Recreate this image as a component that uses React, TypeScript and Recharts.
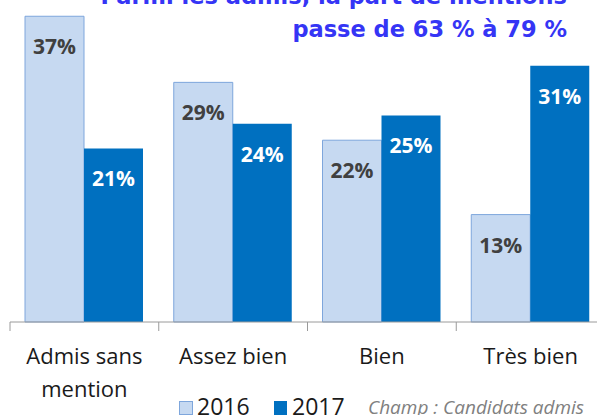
import { BarChart, Bar, XAxis, YAxis, LabelList } from 'recharts';

// Mentions au baccalauréat, parmi les admis
const categories = ['Admis sans\nmention', 'Assez bien', 'Bien', 'Très bien'];
const values2016 = [37, 29, 22, 13];
const values2017 = [21, 24, 25, 31];
const seriesNames = ['2016', '2017'];
const titleLines = ['Parmi les admis, la part de mentions', 'passe de 63 % à 79 %'];
const sourceNote = 'Champ : Candidats admis';

const LIGHT = '#c6d9f1';
const LIGHT_BORDER = '#7ea6dc';
const DARK = '#0070c0';
const AXIS = '#9a9a9a';
const LABEL_FONT = '"Open Sans", "Noto Sans", sans-serif';

const data = categories.map((name, i) => ({
  name,
  y2016: values2016[i],
  y2017: values2017[i],
}));

// tick with the category label, plus a small tick mark on the left edge of the band
function CategoryTick(props: any) {
  const { x, y, payload } = props;
  const half = payload?.offset ?? 74.4;
  const lines = String(payload.value).split('\n');
  return (
    <g>
      <line x1={x - half} x2={x - half} y1={y} y2={y + 9} stroke={AXIS} strokeWidth={1} />
      {lines.map((line, i) => (
        <text
          key={i}
          x={x}
          y={y + 42 + i * 33}
          textAnchor="middle"
          fill="#1a1a1a"
          fontFamily={LABEL_FONT}
          fontSize={22}
        >
          {line}
        </text>
      ))}
    </g>
  );
}

const valueLabel = (color: string) => (props: any) => {
  const { x, y, width, value } = props;
  return (
    <text
      x={x + width / 2}
      y={y + 30}
      textAnchor="middle"
      dominantBaseline="central"
      fill={color}
      fontFamily={LABEL_FONT}
      fontWeight={700}
      fontSize={21}
    >
      {value}%
    </text>
  );
};

export default function App() {
  return (
    <div
      style={{
        position: 'fixed',
        left: 0,
        top: 0,
        width: 597,
        height: 415,
        overflow: 'hidden',
        background: '#fff',
      }}
    >
      <BarChart
        width={620}
        height={415}
        data={data}
        margin={{ top: 8, right: 15, bottom: 0, left: 10 }}
        barCategoryGap={15}
        barGap={0}
      >
        <XAxis
          dataKey="name"
          interval={0}
          height={93}
          tickSize={0}
          tickMargin={0}
          axisLine={{ stroke: AXIS }}
          tickLine={false}
          tick={<CategoryTick />}
        />
        <YAxis hide domain={[0, 38]} />
        <Bar dataKey="y2016" name={seriesNames[0]} fill={LIGHT} stroke={LIGHT_BORDER} isAnimationActive={false}>
          <LabelList dataKey="y2016" content={valueLabel('#404040')} />
        </Bar>
        <Bar dataKey="y2017" name={seriesNames[1]} fill={DARK} isAnimationActive={false}>
          <LabelList dataKey="y2017" content={valueLabel('#ffffff')} />
        </Bar>
      </BarChart>

      {/* title, partly cut at the top like the source slide */}
      <svg width={597} height={60} style={{ position: 'absolute', left: 0, top: 0 }}>
        {titleLines.map((line, i) => (
          <text
            key={i}
            x={567}
            y={4 + i * 33}
            textAnchor="end"
            fill="#3535f5"
            fontFamily='"DejaVu Sans", sans-serif'
            fontWeight={700}
            fontSize={22.5}
          >
            {line}
          </text>
        ))}
      </svg>

      {/* legend + scope note */}
      <svg width={430} height={30} style={{ position: 'absolute', left: 175, top: 390 }}>
        <rect x={4.5} y={11.5} width={13} height={13} fill={LIGHT} stroke={LIGHT_BORDER} />
        <text x={22} y={25} fontFamily={LABEL_FONT} fontSize={23} fill="#1a1a1a">
          {seriesNames[0]}
        </text>
        <rect x={99} y={11} width={13} height={14} fill={DARK} />
        <text x={117} y={25} fontFamily={LABEL_FONT} fontSize={23} fill="#1a1a1a">
          {seriesNames[1]}
        </text>
        <text x={193} y={24} fontFamily={LABEL_FONT} fontStyle="italic" fontSize={19} fill="#808080">
          {sourceNote}
        </text>
      </svg>
    </div>
  );
}
